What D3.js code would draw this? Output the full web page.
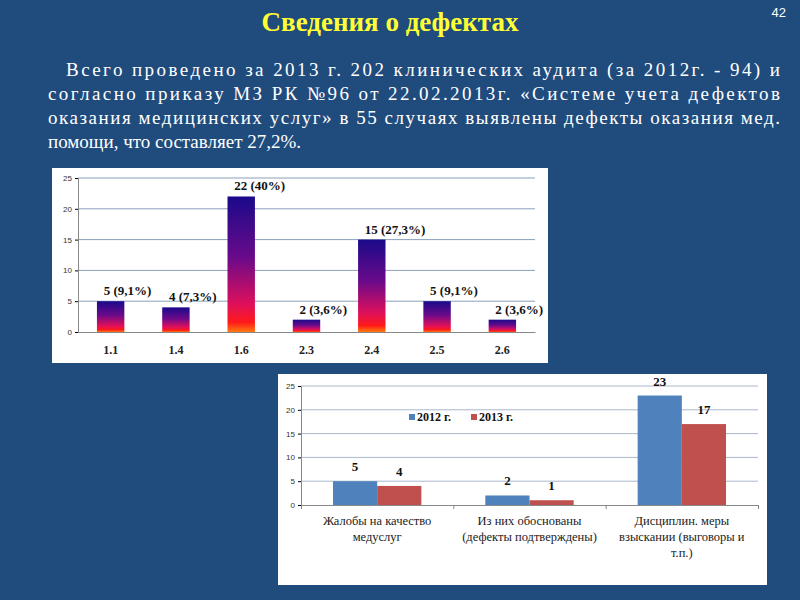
<!DOCTYPE html>
<html><head><meta charset="utf-8">
<script src="https://cdn.jsdelivr.net/npm/d3@7"></script>
<style>body{margin:0;background:#1f4b7d;}svg{display:block;}</style>
</head><body>
<svg id="c" width="800" height="600"></svg>
<script>
const codes = ["1.1","1.4","1.6","2.3","2.4","2.5","2.6"];
const counts = [5,4,22,2,15,5,2];
const pctLabels = ["(9,1%)","(7,3%)","(40%)","(3,6%)","(27,3%)","(9,1%)","(3,6%)"];
const yTicks1 = [0,5,10,15,20,25];
const groups = ["Жалобы на качество|медуслуг","Из них обоснованы|(дефекты подтверждены)","Дисциплин. меры|взыскании (выговоры и|т.п.)"];
const years = ["2012 г.","2013 г."];
const values2012 = [5,2,23];
const values2013 = [4,1,17];
const yearColors = ["#4f81bd","#c0504d"];
const paragraph = [
 "Всего проведено за 2013 г. 202 клинических аудита (за 2012г. - 94) и",
 "согласно приказу МЗ РК №96 от 22.02.2013г. «Системе учета дефектов",
 "оказания медицинских услуг» в 55 случаях выявлены дефекты оказания мед.",
 "помощи, что составляет 27,2%."];

const svg = d3.select("#c");
svg.append("rect").attr("width",800).attr("height",600).attr("fill","#1f4b7d");
svg.append("text").attr("x",390).attr("y",31).attr("text-anchor","middle")
  .attr("font-family","Liberation Serif").attr("font-weight","bold").attr("font-size",27)
  .attr("fill","#ffff33").text("Сведения о дефектах");
svg.append("text").attr("x",786).attr("y",17).attr("text-anchor","end")
  .attr("font-family","Liberation Sans").attr("font-size",13).attr("fill","#fff").text("42");
paragraph.forEach((t,i)=>{
  const x0 = i===0?66:48, last = i===paragraph.length-1;
  const el = svg.append("text").attr("x",x0).attr("y",76+i*24)
    .attr("font-family","Liberation Serif").attr("font-size",19).attr("fill","#fff").text(t);
  if(!last) el.attr("textLength",780-x0).attr("lengthAdjust","spacing");
});

// gradient
const defs = svg.append("defs");
const g = defs.append("linearGradient").attr("id","grad").attr("x1",0).attr("y1",0).attr("x2",0).attr("y2",1);
[[0,"#1a0a8a"],[0.45,"#6a0a8a"],[0.8,"#e0105a"],[0.93,"#ff1a1a"],[1,"#ff7a10"]]
 .forEach(([o,c])=>g.append("stop").attr("offset",o).attr("stop-color",c));

// Chart 1
svg.append("rect").attr("x",52).attr("y",168).attr("width",496).attr("height",195).attr("fill","#fff");
const x1 = d3.scaleBand().domain(codes).range([78,535]).paddingInner(0.58).paddingOuter(0.29);
const y1 = d3.scaleLinear().domain([0,25]).range([332,178]);
const c1 = svg.append("g");
c1.selectAll(".gl").data(yTicks1.slice(1)).join("line").attr("x1",78).attr("x2",535)
  .attr("y1",d=>y1(d)).attr("y2",d=>y1(d)).attr("stroke","#8aa0bc").attr("stroke-width",1);
const ax1 = c1.append("g").attr("transform","translate(78,0)")
  .call(d3.axisLeft(y1).tickValues(yTicks1).tickSize(3));
ax1.selectAll("text").attr("font-family","Liberation Sans").attr("font-size",8).attr("fill","#333");
ax1.select(".domain").attr("stroke","#888");
const bx1 = c1.append("g").attr("transform","translate(0,332)")
  .call(d3.axisBottom(d3.scalePoint().domain(codes).range([78,535])).tickFormat("").tickSize(0));
bx1.select(".domain").attr("stroke","#888");
c1.selectAll(".bar").data(codes).join("rect").attr("x",d=>x1(d)).attr("width",x1.bandwidth())
  .attr("y",(d,i)=>y1(counts[i])).attr("height",(d,i)=>332-y1(counts[i])).attr("fill","url(#grad)");
c1.selectAll(".xl").data(codes).join("text").attr("x",d=>x1(d)+x1.bandwidth()/2).attr("y",354)
  .attr("text-anchor","middle").attr("font-family","Liberation Serif").attr("font-weight","bold")
  .attr("font-size",12).attr("fill","#222").text(d=>d);
c1.selectAll(".vl").data(codes).join("text").attr("x",d=>x1(d)+x1.bandwidth()/2-7).attr("y",(d,i)=>y1(counts[i])-6)
  .attr("font-family","Liberation Serif").attr("font-weight","bold").attr("font-size",13).attr("fill","#111")
  .text((d,i)=>counts[i]+" "+pctLabels[i]);

// Chart 2
svg.append("rect").attr("x",278).attr("y",374).attr("width",489).attr("height",211).attr("fill","#fff");
const x2 = d3.scaleBand().domain(groups).range([301,758]).paddingInner(0.42).paddingOuter(0.21);
const xs = d3.scaleBand().domain(years).range([0,x2.bandwidth()]);
const y2 = d3.scaleLinear().domain([0,25]).range([505,386]);
const c2 = svg.append("g");
c2.selectAll(".gl").data(yTicks1.slice(1)).join("line").attr("x1",301).attr("x2",758)
  .attr("y1",d=>y2(d)).attr("y2",d=>y2(d)).attr("stroke","#a8b8cc");
const ax2 = c2.append("g").attr("transform","translate(301,0)").call(d3.axisLeft(y2).tickValues(yTicks1).tickSize(3));
ax2.selectAll("text").attr("font-family","Liberation Sans").attr("font-size",8).attr("fill","#333");
ax2.select(".domain").attr("stroke","#888");
const bx2 = c2.append("g").attr("transform","translate(0,505)")
  .call(d3.axisBottom(d3.scaleLinear().domain([0,3]).range([301,758])).ticks(3).tickFormat("").tickSize(4));
bx2.selectAll("line,path").attr("stroke","#888");
const series = [values2012, values2013];
years.forEach((yr,si)=>{
  c2.selectAll(".b"+si).data(groups).join("rect").attr("x",d=>x2(d)+xs(yr)).attr("width",xs.bandwidth())
    .attr("y",(d,i)=>y2(series[si][i])).attr("height",(d,i)=>505-y2(series[si][i])).attr("fill",yearColors[si]);
  c2.selectAll(".l"+si).data(groups).join("text").attr("x",d=>x2(d)+xs(yr)+xs.bandwidth()/2)
    .attr("y",(d,i)=>y2(series[si][i])-10).attr("text-anchor","middle").attr("font-family","Liberation Serif")
    .attr("font-weight","bold").attr("font-size",13).attr("fill","#111").text((d,i)=>series[si][i]);
});
groups.forEach(gr=>{
  gr.split("|").forEach((ln,j)=>{
    c2.append("text").attr("x",x2(gr)+x2.bandwidth()/2).attr("y",525+j*16).attr("text-anchor","middle")
      .attr("font-family","Liberation Serif").attr("font-size",12.5).attr("fill","#222").text(ln);
  });
});
years.forEach((yr,i)=>{
  const lx = 409+i*62;
  c2.append("rect").attr("x",lx).attr("y",414).attr("width",6).attr("height",6).attr("fill",yearColors[i]);
  c2.append("text").attr("x",lx+8).attr("y",421).attr("font-family","Liberation Serif").attr("font-weight","bold")
    .attr("font-size",12).attr("fill","#111").text(yr);
});
</script>
</body></html>
